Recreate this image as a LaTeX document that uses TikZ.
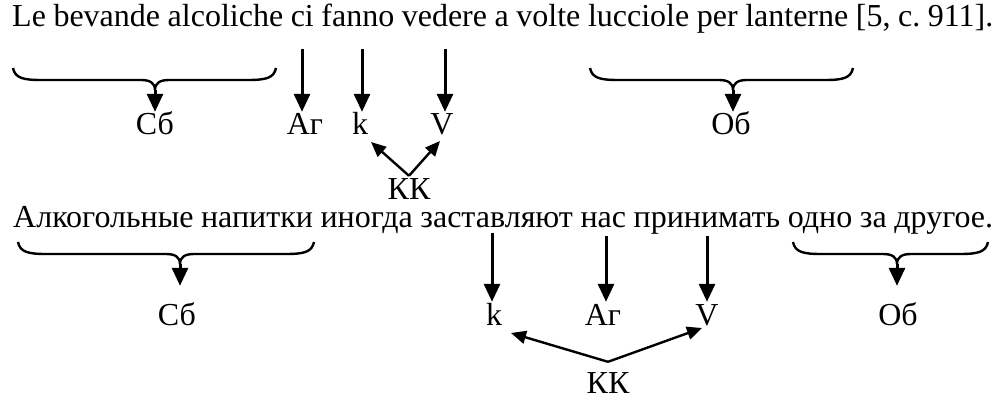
\documentclass[tikz,border=0pt]{standalone}
\usepackage{fontspec}
\setmainfont{Liberation Serif}
\usetikzlibrary{arrows.meta}
\frenchspacing
\newcommand\mybrace[5]{%
  \draw[brc] (#1,#4) .. controls (#1+2,#4+10) and (#1+10,#4+12) .. (#1+28,#4+12)
    -- (#2-14,#4+12) .. controls (#2-5,#4+12) and (#2,#4+15) .. (#2,#4+22)
    .. controls (#2,#4+15) and (#2+5,#4+12) .. (#2+14,#4+12)
    -- (#3-28,#4+12) .. controls (#3-10,#4+12) and (#3-2,#4+10) .. (#3,#4);
  \coordinate (#5) at (#2,#4+22);}
\begin{document}
\begin{tikzpicture}[x=1pt,y=-1pt,
  txt/.style={font=\fontsize{32pt}{38pt}\selectfont, inner sep=0pt, anchor=base west, text height=22pt, text depth=7pt},
  lbl/.style={font=\fontsize{32pt}{38pt}\selectfont, anchor=base, text height=21pt, text depth=0pt, inner xsep=2pt, inner ysep=2pt},
  arr/.style={line width=3pt, -{Triangle[width=16pt,length=18pt]}},
  karr/.style={line width=2.4pt, -{Triangle[width=13pt,length=15pt]}},
  brc/.style={line width=2.4pt}]
\useasboundingbox (0,0) rectangle (1001,398);
% line 1
\node[txt] (L1) at (12,27) {\makebox[981pt][s]{Le bevande alcoliche ci fanno vedere a volte lucciole per lanterne [5, c. 911].}};
\coordinate (a1) at (302,49);
\coordinate (k1) at (362,49);
\coordinate (v1) at (445,49);
\mybrace{13}{155}{276}{68}{b1}
\mybrace{590}{733}{853}{68}{b2}
\node[lbl] (Sb1) at (155,135) {Сб};
\node[lbl] (Ag1) at (305,135) {Аг};
\node[lbl] (K1) at (360,135) {k};
\node[lbl] (V1) at (442,135) {V};
\node[lbl] (Ob1) at (731,135) {Об};
\node[lbl] (KK1) at (409,200) {КК};
\coordinate (kk1a) at (371,142);
\coordinate (kk1b) at (440,141);
\draw[arr] (b1) -- (Sb1.north);
\draw[arr] (b2) -- (b2 |- Ob1.north);
\draw[arr] (a1) -- (a1 |- Ag1.north);
\draw[arr] (k1) -- (k1 |- K1.north);
\draw[arr] (v1) -- (v1 |- V1.north);
\draw[karr] ([yshift=1pt]KK1.north) -- (kk1a);
\draw[karr] ([yshift=1pt]KK1.north) -- (kk1b);
% line 2
\node[txt] (L2) at (13,228) {\makebox[980pt][s]{Алкогольные напитки иногда заставляют нас принимать одно за другое.}};
\coordinate (k2) at (492,233);
\coordinate (a2) at (606,236);
\coordinate (v2) at (707,236);
\mybrace{18}{180}{314}{242}{b3}
\mybrace{793}{897}{988}{242}{b4}
\node[lbl] (Sb2) at (177,325) {Сб};
\node[lbl] (K2) at (494,325) {k};
\node[lbl] (Ag2) at (603,325) {Аг};
\node[lbl] (V2) at (707,325) {V};
\node[lbl] (Ob2) at (898,325) {Об};
\node[lbl] (KK2) at (608,393) {КК};
\coordinate (kk2a) at (511,333);
\coordinate (kk2b) at (702,328);
\draw[arr, shorten >=16pt] (b3) -- (b3 |- Sb2.north);
\draw[arr, shorten >=16pt] (b4) -- (b4 |- Ob2.north);
\draw[arr] (k2) -- (k2 |- K2.north);
\draw[arr] (a2) -- (a2 |- Ag2.north);
\draw[arr] (v2) -- (v2 |- V2.north);
\draw[karr] ([yshift=8pt]KK2.north) -- (kk2a);
\draw[karr] ([yshift=8pt]KK2.north) -- (kk2b);
\end{tikzpicture}
\end{document}
